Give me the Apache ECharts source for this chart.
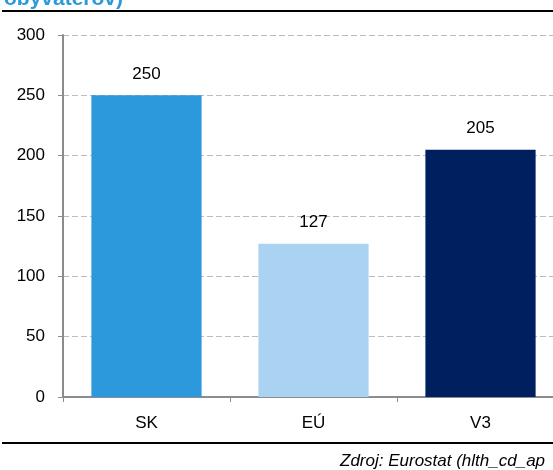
<!DOCTYPE html>
<html>
<head>
<meta charset="utf-8">
<script src="https://cdn.jsdelivr.net/npm/echarts@6/dist/echarts.min.js"></script>
<style>
    html, body { margin: 0; padding: 0; background: #fff; }
    #chart { width: 553px; height: 470px; }
</style>
</head>
<body>
<div id="chart"></div>
<script>
const categories = ["SK", "EÚ", "V3"];
const values = [250, 127, 205];
const barColors = ["#2B99DC", "#AAD3F1", "#001F5E"];
const yTicks = [0, 50, 100, 150, 200, 250, 300];

const chart = echarts.init(document.getElementById("chart"));
const font = "'Liberation Sans', Arial, sans-serif";

const option = {
    animation: false,
    grid: { left: 63, width: 501, top: 35, height: 362, containLabel: false, outerBoundsMode: "none" },
    xAxis: {
        type: "category",
        data: categories,
        axisLine: { lineStyle: { color: "#8c8c8c", width: 2 } },
        axisTick: { show: true, length: 5, lineStyle: { color: "#8c8c8c" } },
        axisLabel: { color: "#000", fontSize: 17, fontFamily: font, margin: 18 }
    },
    yAxis: {
        type: "value",
        min: yTicks[0],
        max: yTicks[yTicks.length - 1],
        interval: 50,
        axisLine: { show: true, lineStyle: { color: "#8c8c8c", width: 2 } },
        axisTick: { show: true, length: 5, lineStyle: { color: "#8c8c8c" } },
        axisLabel: { color: "#000", fontSize: 17, fontFamily: font, margin: 18 },
        splitLine: { lineStyle: { color: "#bdbdbd", type: [6, 3] } }
    },
    series: [{
        type: "bar",
        barWidth: "66%",
        data: values.map((v, i) => ({ value: v, itemStyle: { color: barColors[i] } })),
        label: {
            show: true,
            position: "top",
            distance: 13,
            color: "#000",
            fontSize: 17,
            fontFamily: font
        }
    }],
    graphic: [
        {
            type: "text",
            left: 4,
            top: -11,
            style: { text: "obyvateľov)", fill: "#2A9ADB", font: "bold 21px " + font }
        },
        {
            type: "rect",
            shape: { x: 2, y: 10, width: 551, height: 2 },
            style: { fill: "#000" }
        },
        {
            type: "rect",
            shape: { x: 2, y: 442, width: 551, height: 2 },
            style: { fill: "#000" }
        },
        {
            type: "text",
            left: 340,
            top: 453,
            style: { text: "Zdroj: Eurostat (hlth_cd_ap", fill: "#000", font: "italic 17px " + font }
        }
    ]
};
chart.setOption(option);
</script>
</body>
</html>
